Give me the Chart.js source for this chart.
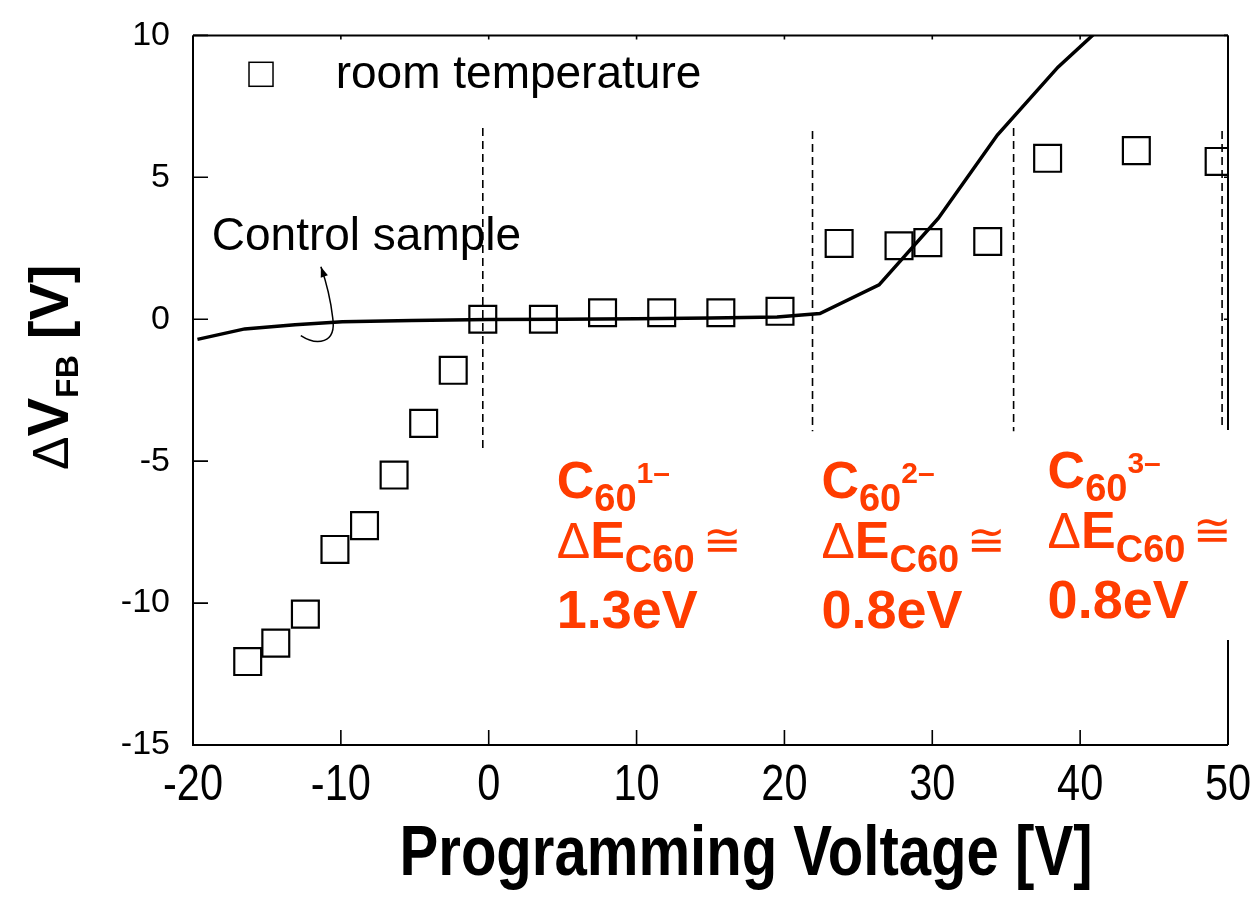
<!DOCTYPE html>
<html>
<head>
<meta charset="utf-8">
<title>Flat-band voltage shift vs programming voltage</title>
<script src="https://cdn.jsdelivr.net/npm/chart.js@4.4.1/dist/chart.umd.min.js"></script>
<style>
  html, body { margin: 0; padding: 0; background: #fff; }
  #wrap { width: 1258px; height: 901px; }
</style>
</head>
<body>
<div id="wrap"><canvas id="vfbChart" width="1258" height="901"></canvas></div>
<script>
// Room temperature measurement: programming voltage (V) vs flat-band shift (V)
const roomTempX = [-16.3, -14.4, -12.4, -10.4, -8.4, -6.4, -4.4, -2.4, -0.4, 3.7, 7.7, 11.7, 15.7, 19.7,
                   23.7, 27.75, 29.7, 33.75, 37.8, 43.8, 49.4];
const roomTempY = [-12.06, -11.41, -10.39, -8.11, -7.27, -5.49, -3.67, -1.8, 0, 0, 0.23, 0.23, 0.23, 0.28,
                   2.67, 2.59, 2.7, 2.74, 5.67, 5.94, 5.56];

// Control sample (solid curve)
const controlX = [-19.7, -16.5, -13.1, -9.9, -5.2, 0, 5, 10, 15, 19.5, 22.4, 26.4, 30.4, 34.4, 38.5, 42.4];
const controlY = [-0.71, -0.34, -0.19, -0.09, -0.04, -0.01, 0, 0.02, 0.04, 0.08, 0.2, 1.21, 3.55, 6.49, 8.88, 10.75];

const xTicks = [-20, -10, 0, 10, 20, 30, 40, 50];
const yTicks = [-15, -10, -5, 0, 5, 10];

// charge-state boundaries (dashed verticals)
const boundaryX = [-0.4, 21.9, 35.5, 49.6];
const boundaryTop = [6.74, 6.63, 6.74, 6.63];
const boundaryBottom = [-4.58, -3.95, -3.95, -3.88];

// C60 charge state labels
const chargeLabels = ['1\u2013', '2\u2013', '3\u2013'];
const gapLabels = ['1.3eV', '0.8eV', '0.8eV'];

const RED = '#ff3c00';
const SANS = "'Liberation Sans', Arial, sans-serif";
const SQUEEZE = 0.83;   // horizontal squeeze for the condensed axis lettering

function toPoints(xs, ys) {
    return xs.map((v, i) => ({ x: v, y: ys[i] }));
}

// draws a run of text pieces, each with its own font and baseline shift
function drawRun(ctx, x, y, parts) {
    parts.forEach(p => {
        ctx.font = p.font;
        x += (p.dx || 0);
        ctx.fillText(p.text, x, y + (p.dy || 0));
        x += ctx.measureText(p.text).width;
    });
    return x;
}

// condensed text: squeeze horizontally around the anchor point
function drawNarrow(ctx, text, x, y, font) {
    ctx.save();
    ctx.translate(x, y);
    ctx.scale(SQUEEZE, 1);
    ctx.font = font;
    ctx.textAlign = 'center';
    ctx.fillText(text, 0, 0);
    ctx.restore();
}

const decor = {
    id: 'decor',
    beforeDraw(chart) {
        const ctx = chart.ctx;
        ctx.save();
        ctx.fillStyle = '#fff';
        ctx.fillRect(0, 0, chart.width, chart.height);
        ctx.restore();
    },
    beforeDatasetsDraw(chart) {
        const { ctx, scales: { x, y } } = chart;
        ctx.save();
        ctx.strokeStyle = '#000';
        ctx.lineWidth = 1.6;
        ctx.setLineDash([8, 5]);
        boundaryX.forEach((bx, i) => {
            const px = x.getPixelForValue(bx);
            ctx.beginPath();
            ctx.moveTo(px, y.getPixelForValue(boundaryTop[i]));
            ctx.lineTo(px, y.getPixelForValue(boundaryBottom[i]));
            ctx.stroke();
        });
        ctx.restore();
    },
    afterDatasetsDraw(chart) {
        const { ctx, chartArea: a, scales: { x, y } } = chart;
        const P = (vx, vy) => [x.getPixelForValue(vx), y.getPixelForValue(vy)];
        ctx.save();

        // frame, right side interrupted behind the labels
        const gapTop = y.getPixelForValue(-3.9);
        const gapBottom = y.getPixelForValue(-11.3);
        ctx.strokeStyle = '#000';
        ctx.lineWidth = 2;
        ctx.beginPath();
        ctx.moveTo(a.left, a.top); ctx.lineTo(a.left, a.bottom); ctx.lineTo(a.right, a.bottom);
        ctx.moveTo(a.left, a.top); ctx.lineTo(a.right, a.top);
        ctx.moveTo(a.right, a.top); ctx.lineTo(a.right, gapTop);
        ctx.moveTo(a.right, gapBottom); ctx.lineTo(a.right, a.bottom);
        ctx.stroke();

        // inward tick marks
        ctx.lineWidth = 1.6;
        ctx.beginPath();
        x.ticks.forEach(t => {
            const px = x.getPixelForValue(t.value);
            ctx.moveTo(px, a.bottom); ctx.lineTo(px, a.bottom - 15);
            ctx.moveTo(px, a.top); ctx.lineTo(px, a.top + 4);
        });
        y.ticks.forEach(t => {
            const py = y.getPixelForValue(t.value);
            ctx.moveTo(a.left, py); ctx.lineTo(a.left + 15, py);
            if (py < gapTop || py > gapBottom) {
                ctx.moveTo(a.right, py); ctx.lineTo(a.right - 4, py);
            }
        });
        ctx.stroke();

        // x tick labels in condensed lettering
        ctx.fillStyle = '#000';
        ctx.textBaseline = 'alphabetic';
        x.ticks.forEach(t => {
            drawNarrow(ctx, String(t.value), x.getPixelForValue(t.value), a.bottom + 55, '50px ' + SANS);
        });

        // legend
        const [lx, ly] = P(-15.4, 8.63);
        ctx.lineWidth = 1.5;
        ctx.strokeRect(lx - 12, ly - 12, 24, 24);
        ctx.textBaseline = 'middle';
        ctx.font = '46px ' + SANS;
        const [tx, ty] = P(-10.35, 8.6);
        ctx.fillText('room temperature', tx, ty);

        // control sample label with curved arrow
        const [cx, cy] = P(-18.73, 2.87);
        ctx.fillText('Control sample', cx, cy);
        const s0 = P(-12.71, -0.58), c1 = P(-11.63, -0.94), c2 = P(-10.28, -0.87), m = P(-10.55, 0.05);
        const q = P(-10.75, 0.96), tip = P(-11.35, 1.85);
        ctx.lineWidth = 1.5;
        ctx.beginPath();
        ctx.moveTo(s0[0], s0[1]);
        ctx.bezierCurveTo(c1[0], c1[1], c2[0], c2[1], m[0], m[1]);
        ctx.quadraticCurveTo(q[0], q[1], tip[0], tip[1]);
        ctx.stroke();
        const ang = Math.atan2(tip[1] - q[1], tip[0] - q[0]);
        ctx.beginPath();
        ctx.moveTo(tip[0], tip[1]);
        ctx.lineTo(tip[0] - 11 * Math.cos(ang - 0.35), tip[1] - 11 * Math.sin(ang - 0.35));
        ctx.lineTo(tip[0] - 11 * Math.cos(ang + 0.35), tip[1] - 11 * Math.sin(ang + 0.35));
        ctx.closePath();
        ctx.fill();

        // C60 charge states and level spacing
        const annoX = [4.6, 22.5, 37.8];
        const annoY = [-6.29, -6.29, -5.95];
        ctx.fillStyle = RED;
        ctx.textBaseline = 'alphabetic';
        annoX.forEach((ax, i) => {
            const [px, py] = P(ax, annoY[i]);
            drawRun(ctx, px, py, [
                { text: 'C', font: 'bold 52px ' + SANS },
                { text: '60', font: 'bold 38px ' + SANS, dy: 13 },
                { text: chargeLabels[i], font: 'bold 30px ' + SANS, dy: -15 }
            ]);
            drawRun(ctx, px, py + 60, [
                { text: '\u0394', font: '50px ' + SANS },
                { text: 'E', font: 'bold 52px ' + SANS },
                { text: 'C60', font: 'bold 38px ' + SANS, dy: 14 },
                { text: '\u2245', font: '46px ' + SANS, dx: 8, dy: -2 }
            ]);
            ctx.font = 'bold 54px ' + SANS;
            ctx.fillText(gapLabels[i], px, py + 130);
        });

        // y axis title: ΔV_FB [V]
        ctx.fillStyle = '#000';
        ctx.save();
        ctx.translate(68, 470);
        ctx.rotate(-Math.PI / 2);
        drawRun(ctx, 0, 0, [
            { text: '\u0394', font: '50px ' + SANS },
            { text: 'V', font: 'bold 58px ' + SANS },
            { text: 'FB', font: 'bold 32px ' + SANS, dy: 10 },
            { text: '[V]', font: 'bold 56px ' + SANS, dx: 16 }
        ]);
        ctx.restore();

        // x axis title
        drawNarrow(ctx, 'Programming Voltage [V]', 746, 875, 'bold 70px ' + SANS);
        ctx.restore();
    }
};

new Chart(document.getElementById('vfbChart'), {
    type: 'scatter',
    data: {
        datasets: [
            {
                label: 'Control sample',
                data: toPoints(controlX, controlY),
                showLine: true,
                borderColor: '#000',
                borderWidth: 3.5,
                pointRadius: 0,
                tension: 0,
                clip: 0
            },
            {
                label: 'room temperature',
                data: toPoints(roomTempX, roomTempY),
                pointStyle: 'rect',
                pointRadius: 19,
                borderColor: '#000',
                borderWidth: 2.2,
                backgroundColor: 'rgba(0,0,0,0)',
                clip: 0
            }
        ]
    },
    options: {
        responsive: false,
        animation: false,
        events: [],
        layout: { padding: { top: 32, right: 30, left: 0, bottom: 0 } },
        plugins: { legend: { display: false }, tooltip: { enabled: false } },
        scales: {
            x: {
                type: 'linear',
                min: -20,
                max: 50,
                afterBuildTicks: s => { s.ticks = xTicks.map(v => ({ value: v })); },
                afterFit: s => { s.height = 156; },
                grid: { display: false },
                border: { display: false },
                ticks: { display: false }
            },
            y: {
                type: 'linear',
                min: -15,
                max: 10,
                afterBuildTicks: s => { s.ticks = yTicks.map(v => ({ value: v })); },
                afterFit: s => { s.width = 193; },
                grid: { display: false },
                border: { display: false },
                ticks: { color: '#000', padding: 15, font: { family: SANS, size: 34 } }
            }
        }
    },
    plugins: [decor]
});
</script>
</body>
</html>
